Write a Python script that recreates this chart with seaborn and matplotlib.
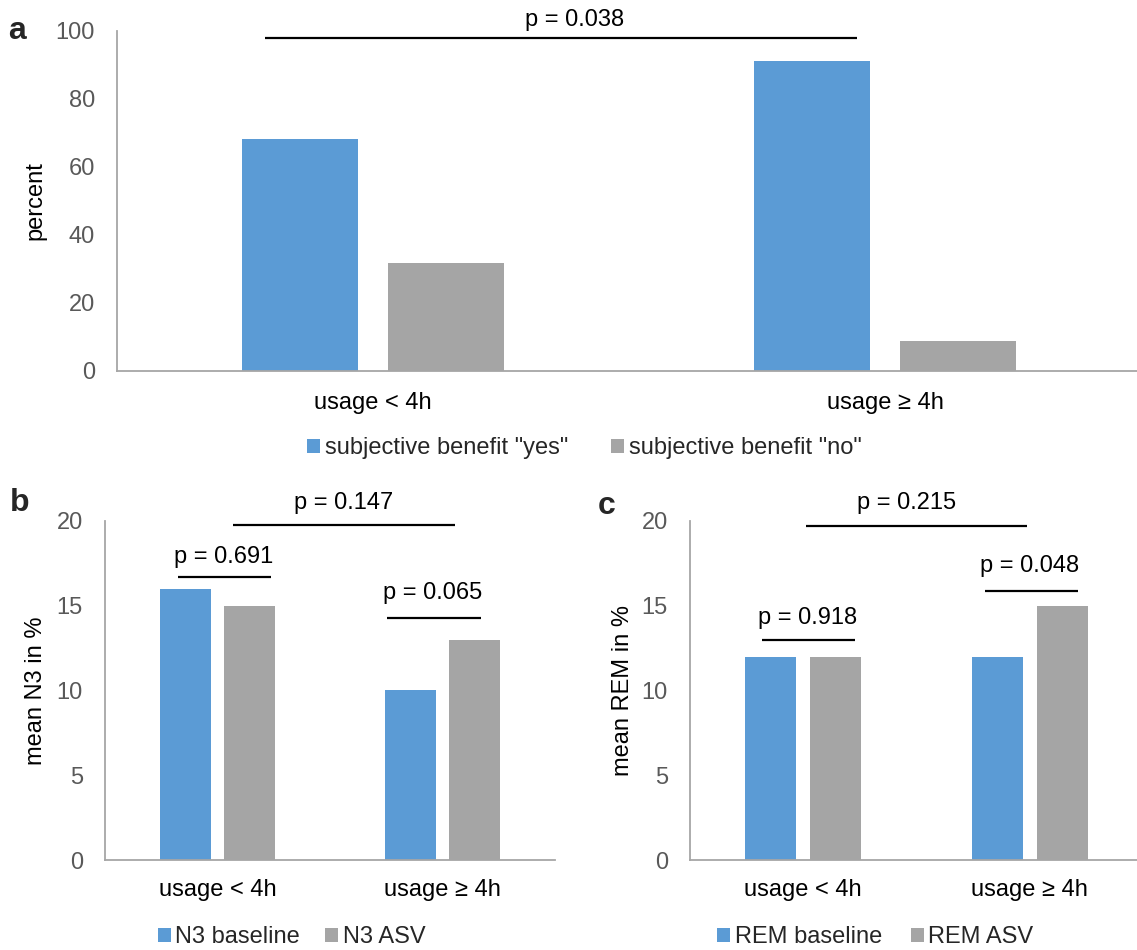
import matplotlib
matplotlib.use("Agg")
import matplotlib.pyplot as plt
import seaborn as sns
import pandas as pd
from matplotlib.patches import Patch

# ---------------- data ----------------
groups = ["usage < 4h", "usage \u2265 4h"]

benefit_series = ['subjective benefit "yes"', 'subjective benefit "no"']
benefit_yes = [68.2, 91.3]
benefit_no = [31.8, 8.7]

n3_series = ["N3 baseline", "N3 ASV"]
n3_baseline = [16, 10]
n3_asv = [15, 13]

rem_series = ["REM baseline", "REM ASV"]
rem_baseline = [12, 12]
rem_asv = [12, 15]

p_a = "p = 0.038"
p_b = ["p = 0.147", "p = 0.691", "p = 0.065"]
p_c = ["p = 0.215", "p = 0.918", "p = 0.048"]

BLUE = "#5B9BD5"
GRAY = "#A5A5A5"
AXIS = "#A6A6A6"
TICKC = "#595959"
FS = 17

sns.set_theme(style="white")
plt.rcParams["font.family"] = ["Liberation Sans", "DejaVu Sans"]
plt.rcParams["font.size"] = FS


def make_df(series, s1, s2):
    return pd.DataFrame({
        "group": groups * 2,
        "series": [series[0]] * 2 + [series[1]] * 2,
        "value": list(s1) + list(s2),
    })


fig = plt.figure(figsize=(11.37, 9.5), dpi=100)

ax_a = fig.add_axes([117 / 1137, 0.6095, 1024 / 1137, 0.3579])
ax_b = fig.add_axes([105 / 1137, 0.0947, 450 / 1137, 0.357])
ax_c = fig.add_axes([690 / 1137, 0.0947, 453 / 1137, 0.357])

panels = [
    (ax_a, make_df(benefit_series, benefit_yes, benefit_no), benefit_series, "percent", (0, 100), range(0, 101, 20)),
    (ax_b, make_df(n3_series, n3_baseline, n3_asv), n3_series, "mean N3 in %", (0, 20), range(0, 21, 5)),
    (ax_c, make_df(rem_series, rem_baseline, rem_asv), rem_series, "mean REM in %", (0, 20), range(0, 21, 5)),
]

for ax, df, series, ylabel, ylim, yt in panels:
    sns.barplot(data=df, x="group", y="value", hue="series", order=groups,
                hue_order=series, palette=[BLUE, GRAY], saturation=1,
                width=0.57, gap=0.21, linewidth=0, ax=ax, legend=False)
    ax.set_xlim(-0.5, 1.5)
    ax.set_ylim(*ylim)
    ax.set_yticks(list(yt))
    ax.set_xlabel("")
    ax.set_ylabel(ylabel, fontsize=FS, color="black")
    for s in ["top", "right"]:
        ax.spines[s].set_visible(False)
    for s in ["left", "bottom"]:
        ax.spines[s].set_color(AXIS)
        ax.spines[s].set_linewidth(1.3)
    ax.tick_params(axis="x", length=0, pad=14, labelsize=FS, labelcolor="black")
    ax.set_facecolor("none")

# panel a ticks
ax_a.tick_params(axis="y", length=6, width=1.2, color=AXIS, pad=10, labelsize=FS, labelcolor=TICKC, direction="out")
ax_a.set_xticks([-0.5, 0.5, 1.5], minor=True)
ax_a.tick_params(axis="x", which="minor", length=7, width=1.2, color=AXIS, direction="out")
ax_a.tick_params(axis="x", which="major", pad=15)
ax_a.yaxis.set_label_coords(-0.069, 0.5)
for ax, lc in [(ax_b, -0.129), (ax_c, -0.124)]:
    ax.tick_params(axis="y", length=0, pad=16, labelsize=FS, labelcolor=TICKC)
    ax.yaxis.set_label_coords(lc, 0.5)

# significance brackets
def bracket(ax, x0, x1, y, text, ty, tx):
    ax.plot([x0, x1], [y, y], color="black", lw=1.6, clip_on=False, solid_capstyle="butt")
    ax.text(tx, ty, text, ha="center", va="center", fontsize=FS, color="black")

bracket(ax_a, -0.211, 0.945, 97.9, p_a, 103.3, 0.394)
bracket(ax_b, 0.069, 1.056, 19.76, p_b[0], 21.06, 0.562)
bracket(ax_b, -0.176, 0.238, 16.7, p_b[1], 17.88, 0.029)
bracket(ax_b, 0.753, 1.171, 14.28, p_b[2], 15.75, 0.958)
bracket(ax_c, 0.012, 0.988, 19.7, p_c[0], 21.06, 0.458)
bracket(ax_c, -0.182, 0.228, 12.98, p_c[1], 14.3, 0.021)
bracket(ax_c, 0.802, 1.213, 15.87, p_c[2], 17.35, 0.997)

# legends
def add_legend(series, cx, cy, colsp):
    handles = [Patch(facecolor=BLUE, edgecolor="none"), Patch(facecolor=GRAY, edgecolor="none")]
    fig.legend(handles, series, loc="center", bbox_to_anchor=(cx, cy), ncol=2, frameon=False,
               fontsize=FS, handlelength=0.55, handleheight=0.55, handletextpad=0.2,
               columnspacing=colsp, borderaxespad=0, borderpad=0)

add_legend(benefit_series, 0.514, 0.528, 1.8)
add_legend(n3_series, 0.2564, 0.0137, 1.05)
add_legend(rem_series, 0.770, 0.0137, 1.2)

# panel letters
fig.text(8 / 1137, 1 - 31 / 950, "a", fontsize=23, fontweight="bold", va="center", ha="left")
fig.text(10 / 1137, 1 - 503 / 950, "b", fontsize=23, fontweight="bold", va="center", ha="left")
fig.text(598 / 1137, 1 - 506 / 950, "c", fontsize=23, fontweight="bold", va="center", ha="left")

fig.savefig("out.png", dpi=100, facecolor="white")
